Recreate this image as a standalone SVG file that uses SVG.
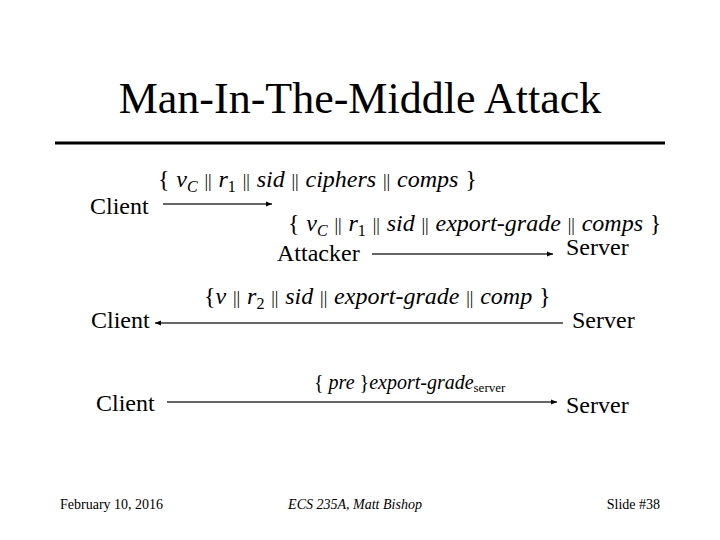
<svg xmlns="http://www.w3.org/2000/svg" width="720" height="540" viewBox="0 0 720 540" font-family="'Liberation Serif', 'DejaVu Serif', serif">
<style>
text{font-family:'Liberation Serif','DejaVu Serif',serif;fill:#000}
.t{font-size:24px}
.l{word-spacing:0.8px}
.i{font-style:italic}
.b{font-size:18px}
.s{font-size:16px}
.f{font-size:14px}
.c{stroke:#333;stroke-width:1.3;fill:none}
</style>
<defs>
<marker id="ah" viewBox="0 0 10 10" refX="10" refY="5" markerWidth="7" markerHeight="6" orient="auto" markerUnits="userSpaceOnUse">
<path d="M0,1 L10,5 L0,9 z" fill="#000"/>
</marker>
</defs>
<rect width="720" height="540" fill="#fff"/>
<text x="360" y="113" text-anchor="middle" font-size="44">Man-In-The-Middle Attack</text>
<line x1="55" y1="143" x2="665" y2="143" stroke="#000" stroke-width="3"/>

<g id="msg1-label"><text x="158" y="187" class="t l">{ <tspan class="i">v</tspan><tspan class="i s" dy="5">C</tspan><tspan dy="-5"> </tspan><tspan class="b">||</tspan> <tspan class="i">r</tspan><tspan class="s" dy="5">1</tspan><tspan dy="-5"> </tspan><tspan class="b">||</tspan> <tspan class="i">sid</tspan> <tspan class="b">||</tspan> <tspan class="i">ciphers</tspan> <tspan class="b">||</tspan> <tspan class="i">comps</tspan> }</text></g>
<g id="client1"><text x="90" y="214" class="t">Client</text></g>
<g id="msg2-label"><text x="288" y="231" class="t l">{ <tspan class="i">v</tspan><tspan class="i s" dy="5">C</tspan><tspan dy="-5"> </tspan><tspan class="b">||</tspan> <tspan class="i">r</tspan><tspan class="s" dy="5">1</tspan><tspan dy="-5"> </tspan><tspan class="b">||</tspan> <tspan class="i">sid</tspan> <tspan class="b">||</tspan> <tspan class="i">export-grade</tspan> <tspan class="b">||</tspan> <tspan class="i">comps</tspan> }</text></g>
<g id="attacker"><text x="277" y="261" class="t">Attacker</text></g>
<g id="server1"><text x="566" y="255" class="t">Server</text></g>
<g id="msg3-label"><text x="204" y="304" class="t l">{<tspan class="i">v</tspan> <tspan class="b">||</tspan> <tspan class="i">r</tspan><tspan class="s" dy="5">2</tspan><tspan dy="-5"> </tspan><tspan class="b">||</tspan> <tspan class="i">sid</tspan> <tspan class="b">||</tspan> <tspan class="i">export-grade</tspan> <tspan class="b">||</tspan> <tspan class="i">comp</tspan> }</text></g>
<g id="client2"><text x="91" y="328" class="t">Client</text></g>
<g id="server2"><text x="572" y="328" class="t">Server</text></g>
<g id="msg4-label"><text x="314" y="389" font-size="20">{ <tspan class="i">pre</tspan> }<tspan class="i">export-grade</tspan><tspan font-size="13" dy="3">server</tspan></text></g>
<g id="client3"><text x="96" y="411" class="t">Client</text></g>
<g id="server3"><text x="566" y="413" class="t">Server</text></g>

<g id="connectors">
<line class="c" x1="163" y1="204" x2="272" y2="204" marker-end="url(#ah)"/>
<line class="c" x1="372" y1="254" x2="553" y2="254" marker-end="url(#ah)"/>
<line class="c" x1="563" y1="323" x2="155" y2="323" marker-end="url(#ah)"/>
<line class="c" x1="167" y1="402" x2="557" y2="402" marker-end="url(#ah)"/>
</g>

<text x="60" y="509" class="f">February 10, 2016</text>
<text x="355" y="509" class="f i" text-anchor="middle">ECS 235A, Matt Bishop</text>
<text x="660" y="509" class="f" text-anchor="end">Slide #38</text>
</svg>
